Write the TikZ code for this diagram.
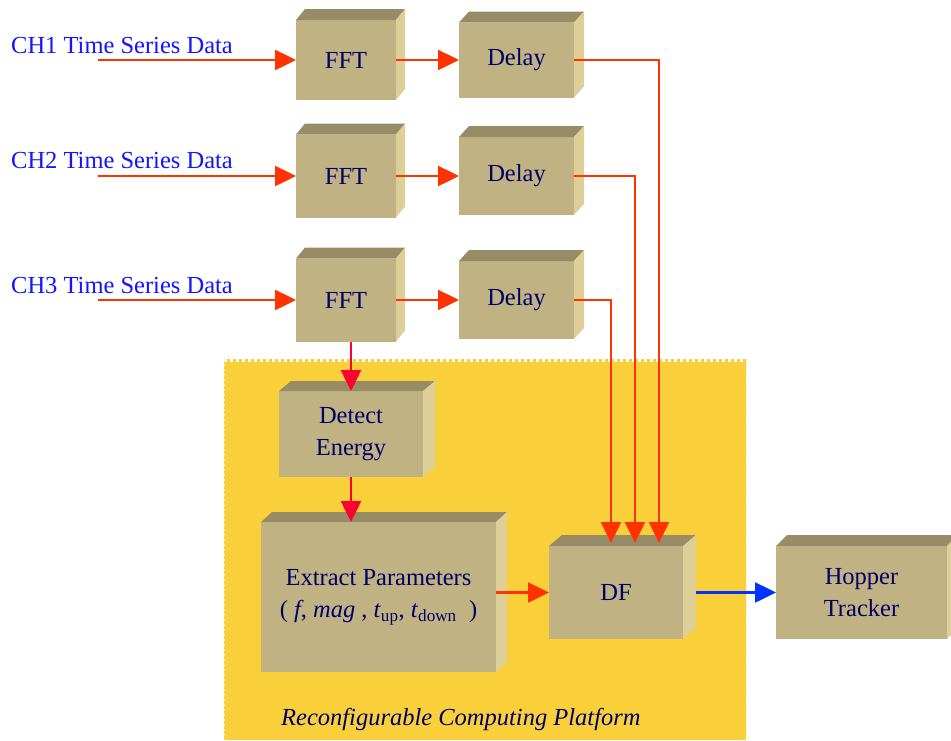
\documentclass[tikz,border=0pt]{standalone}
\usepackage{xcolor}
\usepackage{fontspec}
\setmainfont{Liberation Serif}
\usepackage{tikz}
\usetikzlibrary{arrows.meta,positioning,calc}
\definecolor{navy}{HTML}{000066}
\definecolor{chblue}{HTML}{1414FF}
\definecolor{tan}{HTML}{C0B283}
\definecolor{tantop}{HTML}{978C66}
\definecolor{tanside}{HTML}{DDCF97}
\definecolor{flow}{HTML}{FF3300}
\definecolor{crim}{HTML}{FF0033}
\definecolor{link}{HTML}{0033FF}
\definecolor{gold}{HTML}{F9D03A}

\begin{document}
\begin{tikzpicture}[
  x=1pt,y=-1pt,
  blk/.style={fill=tan,outer sep=0pt,inner sep=2pt,align=center,text=navy,font=\fontsize{24.5pt}{32pt}\selectfont},
  chlab/.style={anchor=base west,text=chblue,inner sep=0pt,font=\fontsize{24.5pt}{30pt}\selectfont},
  arr/.style={-{Triangle[length=21pt,width=20pt]},line width=2.5pt,color=flow},
  arrr/.style={arr,color=crim},
  arrb/.style={arr,color=link}
]
\useasboundingbox (0,0) rectangle (951,740);
% platform area
\fill[gold] (224,359) rectangle (746,740);
\draw[white,line width=3pt,dash pattern=on 3pt off 3pt] (224,360.5) -- (746,360.5);
\draw[gold!40!white,line width=1pt,dash pattern=on 2pt off 3pt] (746,359) -- (746,740);
\draw[gold!40!white,line width=1pt,dash pattern=on 2pt off 3pt] (224.5,359) -- (224.5,740);
\node[anchor=base west,text=navy,inner sep=0pt,font=\fontsize{24.5pt}{30pt}\selectfont\itshape] (plat) at (281,725) {Reconfigurable Computing Platform};

% channel labels
\node[chlab] (lab1) at (11,53) {CH1 Time Series Data};
\node[chlab] (lab2) at (11,168) {CH2 Time Series Data};
\node[chlab] (lab3) at (11,293) {CH3 Time Series Data};
\coordinate (in1) at (98,60);
\coordinate (in2) at (98,176);
\coordinate (in3) at (98,300);

% blocks
\node[blk,minimum width=100pt,minimum height=80pt] (f1) at (346,60) {FFT};
\node[blk,minimum width=100pt,minimum height=83pt] (f2) at (346,176) {FFT};
\node[blk,minimum width=100pt,minimum height=83pt] (f3) at (346,300) {FFT};
\node[blk,minimum width=115pt,minimum height=75pt] (d1) at (516.5,60) {Delay};
\node[blk,minimum width=115pt,minimum height=78pt] (d2) at (516.5,176) {Delay};
\node[blk,minimum width=115pt,minimum height=78pt] (d3) at (516.5,300) {Delay};
\node[blk,minimum width=144pt,minimum height=86pt] (de) at (351,434) {Detect\\Energy};
\node[blk,minimum width=235pt,minimum height=150pt] (ex) at (378.5,597) {Extract Parameters\\( \textit{f}, \textit{mag} , \textit{t}\textsubscript{up}, \textit{t}\textsubscript{down}~ )};
\node[blk,minimum width=134pt,minimum height=93pt] (df) at (616,592.5) {DF};
\node[blk,minimum width=171pt,minimum height=93pt] (ht) at (861.5,592.5) {Hopper\\Tracker};

% top and side faces
\foreach \n/\dx/\dy in {f1/9/11,f2/9/11,f3/9/11,d1/10/11,d2/10/11,d3/10/11,de/12/10,ex/11/10,df/13/11,ht/11/11}{
  \fill[tantop] (\n.north west) -- ++(\dx pt,\dy pt) -- ([shift={(\dx pt,\dy pt)}]\n.north east) -- (\n.north east) -- cycle;
  \fill[tanside] (\n.north east) -- ++(\dx pt,\dy pt) -- ([shift={(\dx pt,\dy pt)}]\n.south east) -- (\n.south east) -- cycle;
}

% connectors
\draw[arr] (in1) -- (in1 -| f1.west);
\draw[arr] (in2) -- (in2 -| f2.west);
\draw[arr] (in3) -- (in3 -| f3.west);
\draw[arr] (f1) -- (d1);
\draw[arr] (f2) -- (d2);
\draw[arr] (f3) -- (d3);
\draw[arr] (d1.east) -| ([xshift=43pt,yshift=3pt]df.north);
\draw[arr] (d2.east) -| ([xshift=19pt,yshift=3pt]df.north);
\draw[arr] (d3.east) -| ([xshift=-5pt,yshift=3pt]df.north);
\draw[arrr] (f3.south -| de.north) -- (de.north);
\draw[arrr] (de.south) -- (de.south |- ex.north);
\draw[arr] (ex.east |- df.west) -- (df.west);
\draw[arrb] ([xshift=13pt]df.east) -- (ht.west);
\end{tikzpicture}
\end{document}
